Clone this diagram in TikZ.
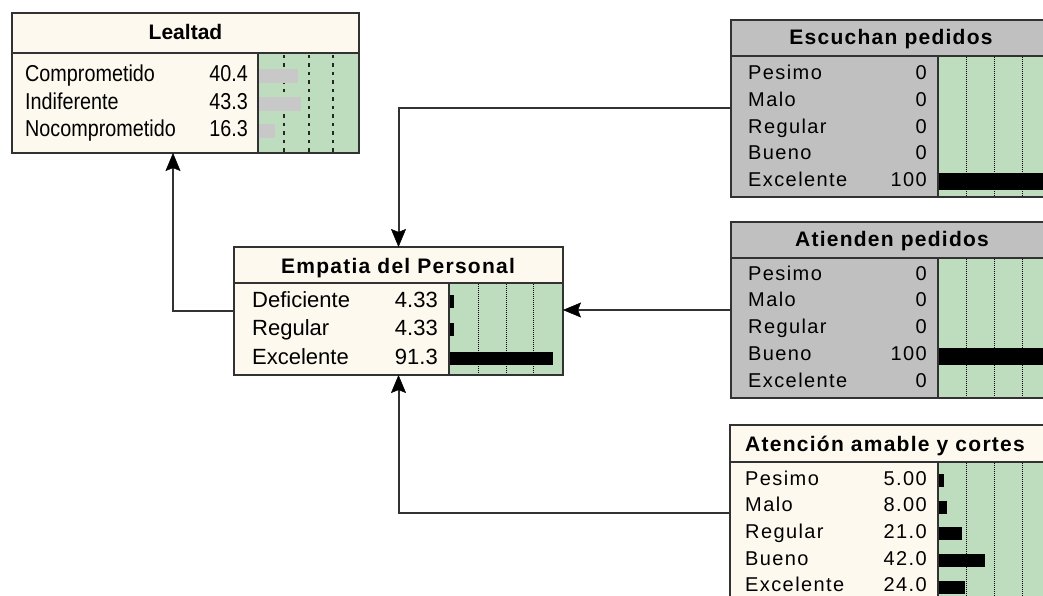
\documentclass[tikz,border=0pt]{standalone}
\usepackage{fontspec}
\usetikzlibrary{arrows.meta}
\setmainfont{Liberation Sans}
\newfontfamily\rowfont[LetterSpace=7]{Liberation Sans}
\newfontfamily\ttlfont[LetterSpace=6]{Liberation Sans}
\newfontfamily\narrowfont[FakeStretch=0.86]{Liberation Sans}
\definecolor{cream}{RGB}{253,249,238}
\definecolor{barbg}{RGB}{190,220,190}
\definecolor{grayfill}{RGB}{192,192,192}
\definecolor{boxline}{RGB}{50,50,50}
\definecolor{lbar}{RGB}{200,200,200}
\begin{document}
\begin{tikzpicture}[x=1pt,y=-1pt,
  box/.style={inner sep=0pt,outer sep=0pt,anchor=north west},
  border/.style={draw=boxline,line width=1.9pt},
  sep/.style={draw=boxline,line width=1.9pt},
  grid/.style={draw=black,line width=1pt,dash pattern=on 1pt off 1pt},
  lgrid/.style={draw=black!85,line width=2pt,dash pattern=on 3.5pt off 5pt},
  lbl/.style={inner sep=0pt,font=\rowfont\fontsize{20}{24}\selectfont},
  elbl/.style={inner sep=0pt,font=\fontsize{22}{26}\selectfont},
  nlbl/.style={inner sep=0pt,font=\narrowfont\fontsize{23}{27}\selectfont},
  ttl/.style={inner sep=0pt,font=\ttlfont\bfseries\fontsize{21}{25}\selectfont},
  nttl/.style={inner sep=0pt,font=\bfseries\fontsize{21}{25}\selectfont},
  conn/.style={draw=boxline,line width=2pt,-{Stealth[length=18pt,width=15pt,inset=3pt,color=black,line width=0.5pt]}}]
\useasboundingbox (0,0) rectangle (1043,596);
\clip (0,0) rectangle (1043,596);

% ---------- Lealtad ----------
\node[box,fill=cream,minimum width=347pt,minimum height=140pt] (lealtad) at (12,13) {};
\fill[barbg] (258,53) rectangle (359,153);
\foreach \x in {283.5,309,333} \draw[lgrid] (\x,55) -- (\x,153);
\foreach \y/\w in {82/40.4,110/43.3,137/16.3}
  \fill[lbar] (259,\y-13) rectangle (259+0.96*\w,\y+1);
\node[nttl,anchor=base] (lea-t) at (185.5,40) {Lealtad};
\foreach \lab/\val/\b [count=\i] in {Comprometido/40.4/82,Indiferente/43.3/110,Nocomprometido/16.3/137}{
  \node[nlbl,anchor=base west] (lea-l\i) at (25,\b) {\lab};
  \node[nlbl,anchor=base east] (lea-v\i) at (248,\b) {\val};}
\draw[sep] (12,53) -- (359,53);
\draw[sep] (258,53) -- (258,153);
\draw[border] (lealtad.north west) rectangle (lealtad.south east);

% ---------- Escuchan pedidos ----------
\node[box,fill=grayfill,minimum width=320pt,minimum height=177pt] (escuchan) at (731,20) {};
\fill[barbg] (938,56) rectangle (1051,197);
\foreach \x in {966,994,1022} \draw[grid] (\x,57) -- (\x,197);
\fill[black] (938,173.5) rectangle (1051,189.5);
\node[ttl,anchor=base] (esc-t) at (891,45) {Escuchan pedidos};
\foreach \lab/\val/\b [count=\i] in {Pesimo/0/80,Malo/0/106.7,Regular/0/133.3,Bueno/0/160,Excelente/100/186.7}{
  \node[lbl,anchor=base west] (esc-l\i) at (748,\b) {\lab};
  \node[lbl,anchor=base east] (esc-v\i) at (927,\b) {\val};}
\draw[sep] (731,56) -- (1051,56);
\draw[sep] (938,56) -- (938,197);
\draw[border] (escuchan.north west) rectangle (escuchan.south east);

% ---------- Atienden pedidos ----------
\node[box,fill=grayfill,minimum width=320pt,minimum height=176pt] (atienden) at (731,222) {};
\fill[barbg] (938,258) rectangle (1051,398);
\foreach \x in {966,994,1022} \draw[grid] (\x,259) -- (\x,398);
\fill[black] (938,347.5) rectangle (1051,364.5);
\node[ttl,anchor=base] (ati-t) at (892,246.7) {Atienden pedidos};
\foreach \lab/\val/\b [count=\i] in {Pesimo/0/280,Malo/0/306.7,Regular/0/333.3,Bueno/100/360,Excelente/0/387}{
  \node[lbl,anchor=base west] (ati-l\i) at (748,\b) {\lab};
  \node[lbl,anchor=base east] (ati-v\i) at (927,\b) {\val};}
\draw[sep] (731,258) -- (1051,258);
\draw[sep] (938,258) -- (938,398);
\draw[border] (atienden.north west) rectangle (atienden.south east);

% ---------- Atencion amable y cortes ----------
\node[box,fill=cream,minimum width=320pt,minimum height=176pt] (atencion) at (730,425) {};
\fill[barbg] (938,462) rectangle (1050,601);
\foreach \x in {966,994,1022} \draw[grid] (\x,463) -- (\x,601);
\foreach \b/\w in {485/5,511.7/8,538.3/21,565/42,591.7/24}
  \fill[black] (938,\b-11) rectangle (938+1.12*\w,\b+2);
\node[ttl,anchor=base west] (aten-t) at (745,451.7) {Atención amable y cortes};
\foreach \lab/\val/\b [count=\i] in {Pesimo/5.00/485,Malo/8.00/511.7,Regular/21.0/538.3,Bueno/42.0/565,Excelente/24.0/591.7}{
  \node[lbl,anchor=base west] (aten-l\i) at (745,\b) {\lab};
  \node[lbl,anchor=base east] (aten-v\i) at (927,\b) {\val};}
\draw[sep] (730,462) -- (1050,462);
\draw[sep] (938,462) -- (938,601);
\draw[border] (atencion.north west) rectangle (atencion.south east);

% ---------- Empatia del Personal ----------
\node[box,fill=cream,minimum width=329pt,minimum height=128pt] (empatia) at (234,247) {};
\fill[barbg] (449,283) rectangle (563,375);
\foreach \x in {478.5,506,533} \draw[grid] (\x,284) -- (\x,375);
\foreach \b/\w in {307/4.33,335/4.33,364/91.3}
  \fill[black] (449,\b-12) rectangle (449+1.14*\w,\b+1);
\node[ttl,anchor=base] (emp-t) at (398,273) {Empatia del Personal};
\foreach \lab/\val/\b [count=\i] in {Deficiente/4.33/307,Regular/4.33/335,Excelente/91.3/364}{
  \node[elbl,anchor=base west] (emp-l\i) at (252,\b) {\lab};
  \node[elbl,anchor=base east] (emp-v\i) at (438,\b) {\val};}
\draw[sep] (234,283) -- (563,283);
\draw[sep] (449,283) -- (449,375);
\draw[border] (empatia.north west) rectangle (empatia.south east);

% ---------- connectors ----------
\draw[conn] (empatia.west) -| ([xshift=-12.5pt]lealtad.south);
\draw[conn] (escuchan.west) -| (empatia.north);
\draw[conn] (atienden.west) -- (atienden.west -| empatia.east);
\draw[conn] (atencion.west) -| (empatia.south);
\end{tikzpicture}
\end{document}
